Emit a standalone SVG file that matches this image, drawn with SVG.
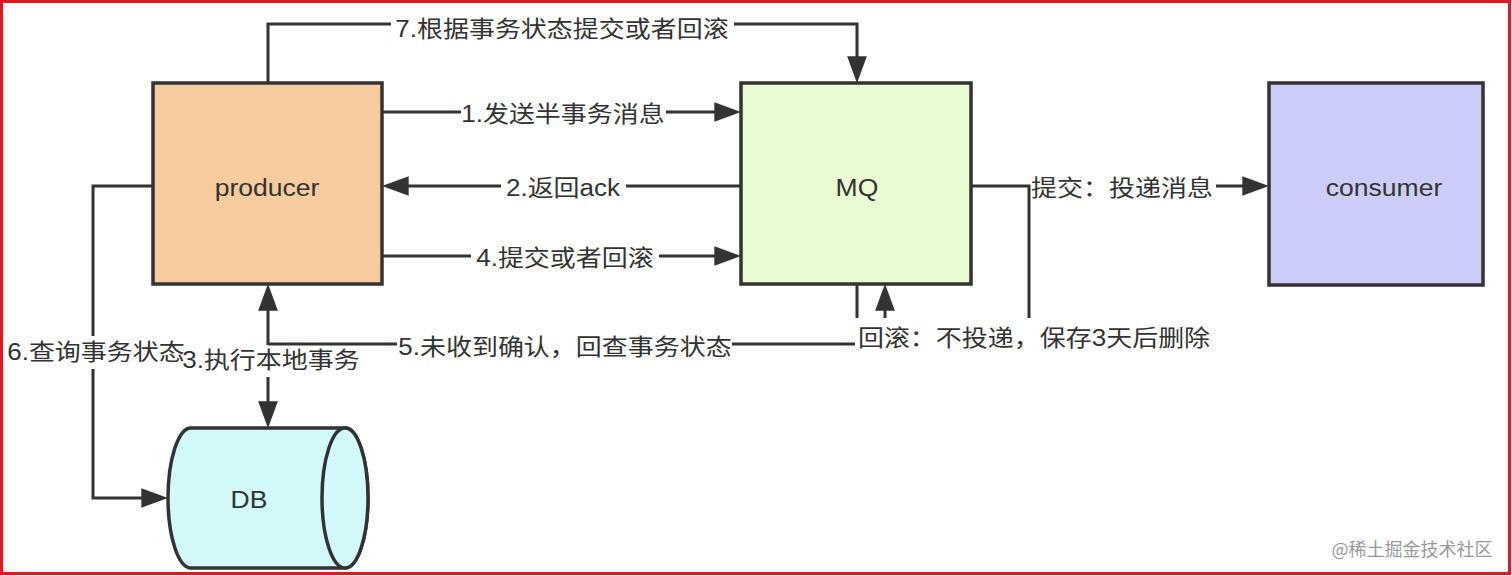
<svg xmlns="http://www.w3.org/2000/svg" width="1512" height="576" viewBox="0 0 1512 576">
  <defs>
    <style>
      .box { stroke: #333333; stroke-width: 3.5; }
      .edge { fill: none; stroke: #333333; stroke-width: 3; stroke-linejoin: miter; }
      .lbl { font-family: "Liberation Sans", "Noto Sans CJK SC", sans-serif; font-size: 23px; fill: #333333; text-anchor: middle; dominant-baseline: central; }
      .node { font-family: "Liberation Sans", Arial, sans-serif; font-size: 23.5px; fill: #333333; text-anchor: middle; dominant-baseline: central; }
      .wm { font-family: "Noto Sans CJK SC", sans-serif; font-size: 18px; fill: #9a9a9a; text-anchor: middle; dominant-baseline: central; }
    </style>
    <marker id="arrow" markerUnits="userSpaceOnUse" markerWidth="27" markerHeight="20" viewBox="0 0 26 19" refX="18" refY="9.5" orient="auto-start-reverse">
      <path d="M0,0 L26,9.5 L0,19 Z" fill="#333333"/>
    </marker>
  </defs>

  <rect x="1.5" y="1.5" width="1508" height="572" fill="#ffffff" stroke="#e5161f" stroke-width="3"/>

  <g id="connectors">
    <!-- 7 -->
    <path class="edge" d="M268 83 L268 24 L391 24"/>
    <path class="edge" d="M734 24 L857 24 L857 75" marker-end="url(#arrow)"/>
    <!-- 1 -->
    <path class="edge" d="M382 112 L461 112"/>
    <path class="edge" d="M666 112 L733 112" marker-end="url(#arrow)"/>
    <!-- 2 -->
    <path class="edge" d="M741 186 L626 186"/>
    <path class="edge" d="M501 186 L390 186" marker-end="url(#arrow)"/>
    <!-- 4 -->
    <path class="edge" d="M382 256 L471 256"/>
    <path class="edge" d="M659 256 L733 256" marker-end="url(#arrow)"/>
    <!-- MQ to consumer / rollback -->
    <path class="edge" d="M971 186 L1029 186 L1029 318"/>
    <path class="edge" d="M1216 186 L1261 186" marker-end="url(#arrow)"/>
    <path class="edge" d="M885 318 L885 292" marker-end="url(#arrow)"/>
    <!-- 5 -->
    <path class="edge" d="M857 284 L857 318"/>
    <path class="edge" d="M855 344 L732 344"/>
    <path class="edge" d="M397 344 L268 344"/>
    <!-- 3 (bidirectional) -->
    <path class="edge" d="M268 345 L268 292" marker-end="url(#arrow)"/>
    <path class="edge" d="M268 377 L268 420" marker-end="url(#arrow)"/>
    <!-- 6 -->
    <path class="edge" d="M153 186 L93 186 L93 336"/>
    <path class="edge" d="M93 369 L93 498 L160 498" marker-end="url(#arrow)"/>

    <text class="lbl" transform="translate(562,29) scale(1.13,1)">7.根据事务状态提交或者回滚</text>
    <text class="lbl" transform="translate(563,114) scale(1.13,1)">1.发送半事务消息</text>
    <text class="lbl" transform="translate(563,188) scale(1.13,1)">2.返回ack</text>
    <text class="lbl" transform="translate(565,258) scale(1.13,1)">4.提交或者回滚</text>
    <text class="lbl" transform="translate(1122,188) scale(1.13,1)">提交：投递消息</text>
    <text class="lbl" transform="translate(1034,338) scale(1.13,1)">回滚：不投递，保存3天后删除</text>
    <text class="lbl" transform="translate(565,347) scale(1.13,1)">5.未收到确认，回查事务状态</text>
    <text class="lbl" transform="translate(96,352) scale(1.13,1)">6.查询事务状态</text>
    <text class="lbl" transform="translate(271,360) scale(1.13,1)">3.执行本地事务</text>
  </g>

  <g id="producer">
    <rect class="box" x="153" y="83" width="229" height="201" fill="#f6cb9d"/>
    <text class="node" transform="translate(267,188) scale(1.13,1)">producer</text>
  </g>

  <g id="mq">
    <rect class="box" x="741" y="83" width="230" height="201" fill="#e8fbd2"/>
    <text class="node" transform="translate(857,188) scale(1.13,1)">MQ</text>
  </g>

  <g id="consumer">
    <rect class="box" x="1269" y="83" width="214" height="202" fill="#cdcdf9"/>
    <text class="node" transform="translate(1384,188) scale(1.13,1)">consumer</text>
  </g>

  <g id="db">
    <path class="box" d="M191 428 L345 428 A23 70 0 0 1 345 568 L191 568 A23 70 0 0 1 191 428 Z" fill="#d2fafa"/>
    <ellipse class="box" cx="345" cy="498" rx="23" ry="70" fill="#d2fafa"/>
    <text class="node" transform="translate(249,500) scale(1.13,1)">DB</text>
  </g>

  <text class="wm" x="1412" y="548">@稀土掘金技术社区</text>
</svg>
